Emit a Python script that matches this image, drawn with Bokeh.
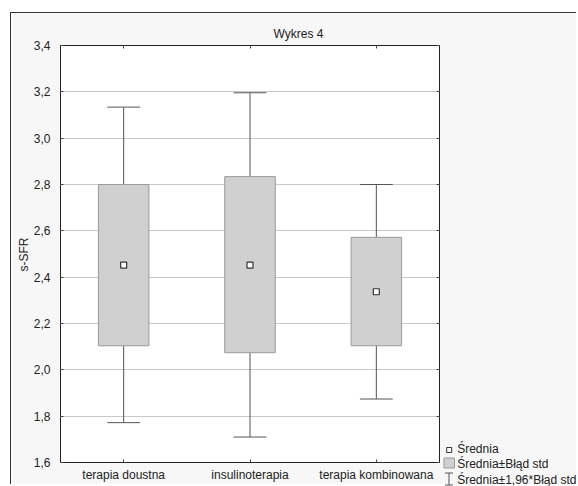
import math
from bokeh.plotting import figure
from bokeh.models import (FactorRange, Range1d, FixedTicker, CustomJSTickFormatter,
                          LinearAxis, CategoricalAxis, ColumnDataSource)
from bokeh.core.properties import value
from bokeh.transform import dodge
from bokeh.embed import file_html
from bokeh.resources import INLINE

categories = ["terapia doustna", "insulinoterapia", "terapia kombinowana"]
means = [2.452, 2.452, 2.337]
se_low = [2.104, 2.074, 2.104]
se_high = [2.800, 2.834, 2.572]
ci_low = [1.772, 1.710, 1.874]
ci_high = [3.134, 3.196, 2.800]
y_ticks = [1.6, 1.8, 2.0, 2.2, 2.4, 2.6, 2.8, 3.0, 3.2, 3.4]
title_text = "Wykres 4"
y_label = "s-SFR"
legend_labels = ["Średnia", "Średnia±Błąd std", "Średnia±1,96*Błąd std"]

FONT = "Liberation Sans"
TXT = "#222222"
BOX_FILL = "#d0d0d0"
BOX_LINE = "#9a9a9a"
WHISK = "#555555"
MARK = "#333333"

src = ColumnDataSource(dict(cat=categories, mean=means, se_low=se_low, se_high=se_high,
                            ci_low=ci_low, ci_high=ci_high))

p = figure(x_range=FactorRange(*categories), y_range=Range1d(1.6, 3.4),
           width=566, height=472, output_backend="svg", toolbar_location=None,
           min_border_left=49, min_border_right=138, min_border_top=32, min_border_bottom=23,
           margin=(12, 0, 0, 10))
p.styles = {"border-top": "1px solid #333333", "border-left": "1px solid #333333"}
p.background_fill_color = "white"
p.border_fill_color = "#f7f7f7"
p.outline_line_color = "#222222"
p.outline_line_width = 1

p.title.text = title_text
p.title.align = "left"
p.title.offset = 213
p.title.text_font = FONT
p.title.text_font_size = "12px"
p.title.text_font_style = "normal"
p.title.text_color = TXT

yax = p.yaxis[0]
yax.ticker = FixedTicker(ticks=y_ticks)
yax.formatter = CustomJSTickFormatter(code="return tick.toFixed(1).replace('.', ',');")
yax.axis_line_color = None
yax.major_tick_in = 3
yax.major_tick_out = 0
yax.minor_tick_line_color = None
yax.major_label_standoff = 10
yax.major_label_text_font = FONT
yax.major_label_text_font_size = "12px"
yax.major_label_text_color = TXT
yax.major_tick_line_color = "#444444"

xax = p.xaxis[0]
xax.axis_line_color = None
xax.major_tick_in = 3
xax.major_tick_out = 0
xax.major_label_standoff = 5
xax.major_label_text_font = FONT
xax.major_label_text_font_size = "12px"
xax.major_label_text_color = TXT
xax.major_tick_line_color = "#444444"

# inner tick marks on the right and top edges (no labels)
rax = LinearAxis(ticker=FixedTicker(ticks=y_ticks), axis_line_color=None,
                 major_tick_in=3, major_tick_out=0, minor_tick_line_color=None,
                 major_label_standoff=0, major_label_text_color=None,
                 major_label_text_font_size="1px", major_tick_line_color="#444444")
p.add_layout(rax, "right")
tax = CategoricalAxis(axis_line_color=None, major_tick_in=3, major_tick_out=0,
                      major_label_standoff=0, major_label_text_color=None,
                      major_label_text_font_size="1px", major_tick_line_color="#444444")
p.add_layout(tax, "above")

p.ygrid.ticker = FixedTicker(ticks=y_ticks)
p.ygrid.grid_line_color = "#c8c8c8"
p.xgrid.grid_line_color = None

p.segment(x0="cat", y0="ci_low", x1="cat", y1="ci_high", source=src,
          line_color=WHISK, line_width=1)
p.vbar(x="cat", width=0.4, bottom="se_low", top="se_high", source=src,
       fill_color=BOX_FILL, line_color=BOX_LINE, line_width=1)
for col in ("ci_low", "ci_high"):
    p.segment(x0=dodge("cat", -0.13, range=p.x_range), x1=dodge("cat", 0.13, range=p.x_range),
              y0=col, y1=col, source=src, line_color=WHISK, line_width=1)
p.scatter(x="cat", y="mean", source=src, marker="square", size=6,
          fill_color="white", line_color=MARK, line_width=1.2)


def overlay(w, h, left, top, flip=False):
    f = figure(width=w, height=h, x_range=Range1d(0, w),
               y_range=Range1d(h, 0) if flip else Range1d(0, h),
               output_backend="svg", toolbar_location=None, x_axis_type=None,
               y_axis_type=None, min_border=0, min_border_left=0, min_border_right=0,
               min_border_top=0, min_border_bottom=0)
    f.styles = {"position": "absolute", "left": f"{left}px", "top": f"{top}px"}
    f.background_fill_color = None
    f.border_fill_color = None
    f.outline_line_color = None
    f.grid.visible = False
    return f


# ---- y-axis title (overlay) ----
ql = overlay(32, 70, 8, 219)
ql.text(x=[15.5], y=[35], text=[y_label], angle=math.pi / 2, text_font=value(FONT),
        text_font_size="12px", text_color=TXT, text_baseline="middle",
        text_align="center")

# ---- legend (overlay in the bottom-right corner) ----
q = overlay(142, 50, 436, 436, flip=True)
q.scatter(x=[12.7], y=[13.5], marker="square", size=5, fill_color="white",
          line_color=MARK, line_width=1)
q.quad(left=[7.5], right=[18], top=[21.5], bottom=[31.5], fill_color=BOX_FILL,
       line_color=BOX_LINE, line_width=1)
q.segment(x0=[12.5, 8.5, 8.5], y0=[36.5, 36.5, 48.5], x1=[12.5, 16.5, 16.5],
          y1=[48.5, 36.5, 48.5], line_color=WHISK, line_width=1)
q.text(x=[20.7, 20.7, 20.7], y=[12.5, 27.5, 43], text=legend_labels,
       text_font=value(FONT), text_font_size="12px", text_color=TXT,
       text_baseline="alphabetic", text_align="left")

open("out.html", "w").write(file_html([p, ql, q], INLINE))
